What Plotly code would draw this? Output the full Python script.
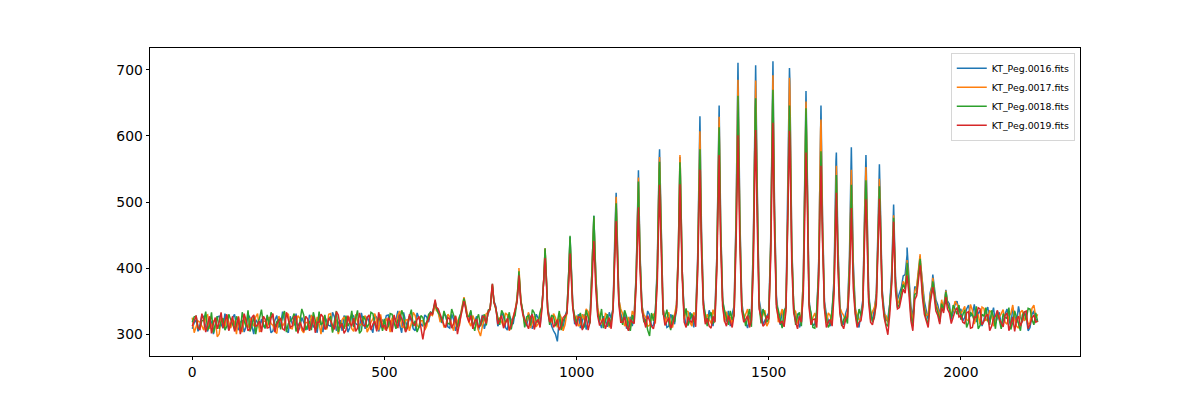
import plotly.graph_objects as go

# ---------------- data ----------------
NAMES = ["KT_Peg.0016.fits", "KT_Peg.0017.fits", "KT_Peg.0018.fits", "KT_Peg.0019.fits"]
COLORS = ["#1f77b4", "#ff7f0e", "#2ca02c", "#d62728"]

# samples every 10 pixels (0 .. 2200) and the in-between samples (5 .. 2195)
GRID_X = list(range(0, 2201, 10))
ODD_X = list(range(5, 2200, 10))

BASE_0016 = [
    308, 322, 315, 326, 304, 318, 312, 327, 309, 320,
    314, 330, 306, 321, 311, 325, 300, 317, 323, 309,
    319, 305, 328, 313, 322, 302, 316, 331, 310, 318,
    307, 324, 315, 329, 303, 320, 312, 326, 317, 305,
    321, 310, 327, 314, 332, 308, 318, 302, 325, 313,
    316, 329, 306, 322, 313, 333, 311, 320, 305, 324,
    312, 326, 334, 342, 336, 317, 328, 309, 322, 314,
    334, 345, 322, 311, 327, 316, 308, 331, 368, 342,
    318, 327, 306, 321, 334, 385, 333, 312, 326, 315,
    324, 344, 400, 326, 305, 289, 318, 327, 398, 348,
    321, 309, 330, 316, 395, 390, 318, 327, 311, 324,
    460, 355, 320, 308, 326, 331, 530, 345, 316, 329,
    314, 405, 470, 327, 312, 322, 342, 550, 331, 317,
    325, 333, 600, 352, 315, 327, 334, 615, 356, 319,
    312, 343, 690, 348, 318, 326, 440, 530, 335, 321,
    332, 680, 358, 314, 327, 515, 440, 322, 310, 385,
    560, 326, 315, 410, 480, 330, 312, 385, 440, 320,
    331, 415, 410, 318, 333, 500, 365, 320, 362, 510,
    338, 324, 395, 385, 362, 388, 420, 342, 372, 392,
    372, 336, 362, 378, 344, 348, 362, 346, 332, 350,
    338, 325, 344, 330, 318, 336, 322, 341, 328, 316,
    333, 320, 338, 312, 329, 342, 318, 326, 310, 335,
    322,
]
ODD_0016 = [
    317, 304, 329, 311, 323, 300, 326, 315, 331, 306,
    325, 312, 318, 303, 330, 314, 322, 309, 312, 327,
    302, 321, 311, 334, 306, 327, 313, 304, 325, 311,
    329, 310, 302, 318, 326, 313, 333, 305, 321, 328,
    303, 330, 316, 305, 320, 327, 310, 329, 304, 322,
    328, 310, 324, 335, 302, 319, 327, 308, 332, 315,
    329, 318, 330, 340, 322, 330, 311, 330, 305, 325,
    346, 328, 333, 318, 306, 329, 320, 338, 350, 312,
    332, 310, 328, 315, 352, 350, 320, 331, 308, 330,
    312, 385, 338, 312, 300, 323, 309, 336, 420, 315,
    330, 320, 307, 328, 470, 334, 309, 322, 333, 340,
    470, 330, 334, 319, 312, 390, 424, 325, 335, 311,
    331, 565, 338, 310, 330, 315, 433, 396, 311, 333,
    310, 414, 460, 325, 336, 312, 419, 468, 328, 335,
    330, 478, 475, 326, 309, 334, 688, 352, 314, 327,
    439, 498, 330, 336, 345, 684, 335, 331, 318, 599,
    352, 313, 330, 630, 350, 322, 336, 562, 345, 314,
    340, 578, 342, 310, 352, 521, 330, 338, 475, 369,
    320, 345, 492, 352, 370, 390, 385, 325, 368, 407,
    350, 322, 374, 352, 330, 340, 350, 322, 345, 333,
    320, 338, 327, 345, 331, 312, 334, 319, 340, 326,
    314, 330, 322, 340, 317, 326, 334, 305, 330, 321,
]

BASE_0017 = [
    325, 311, 318, 306, 329, 314, 322, 300, 317, 328,
    309, 319, 327, 303, 316, 324, 312, 331, 305, 320,
    326, 313, 301, 322, 317, 330, 308, 315, 324, 302,
    318, 329, 310, 316, 325, 307, 331, 313, 300, 322,
    311, 326, 304, 319, 315, 328, 309, 323, 316, 330,
    307, 318, 325, 312, 335, 310, 322, 316, 328, 309,
    320, 312, 330, 340, 333, 324, 313, 326, 305, 319,
    336, 348, 318, 328, 315, 297, 322, 333, 370, 338,
    325, 312, 329, 317, 336, 392, 330, 320, 309, 327,
    316, 340, 405, 322, 331, 310, 325, 314, 395, 345,
    328, 315, 322, 334, 392, 388, 326, 312, 329, 318,
    455, 352, 331, 317, 310, 328, 520, 342, 325, 313,
    330, 398, 462, 318, 333, 310, 345, 552, 322, 334,
    312, 328, 580, 348, 330, 316, 325, 600, 352, 334,
    326, 338, 665, 342, 332, 314, 432, 515, 322, 336,
    318, 660, 352, 330, 316, 505, 432, 334, 324, 380,
    548, 318, 332, 402, 470, 316, 328, 378, 428, 333,
    318, 402, 398, 330, 322, 488, 360, 334, 355, 495,
    330, 318, 385, 378, 352, 380, 405, 335, 365, 395,
    368, 328, 358, 373, 338, 352, 360, 340, 336, 345,
    331, 342, 320, 336, 327, 315, 339, 324, 333, 318,
    326, 337, 315, 331, 322, 309, 336, 328, 317, 344,
    330,
]
ODD_0017 = [
    302, 320, 313, 327, 308, 319, 296, 324, 310, 318,
    321, 300, 314, 328, 309, 318, 326, 304, 319, 311,
    316, 304, 327, 312, 331, 309, 320, 328, 306, 317,
    307, 321, 326, 300, 314, 330, 304, 322, 311, 326,
    320, 308, 330, 313, 324, 303, 318, 331, 306, 314,
    324, 303, 316, 329, 311, 321, 305, 333, 314, 320,
    306, 327, 328, 336, 318, 310, 330, 314, 327, 312,
    349, 330, 312, 320, 305, 312, 331, 337, 348, 320,
    318, 332, 305, 326, 354, 352, 315, 333, 320, 311,
    329, 387, 336, 318, 325, 331, 305, 333, 414, 322,
    312, 330, 338, 318, 468, 340, 320, 331, 310, 338,
    462, 338, 312, 326, 335, 386, 419, 330, 312, 328,
    316, 555, 340, 326, 314, 330, 434, 396, 335, 318,
    333, 407, 450, 318, 322, 337, 414, 460, 318, 320,
    316, 467, 466, 322, 338, 326, 666, 348, 330, 312,
    433, 488, 318, 338, 342, 670, 338, 316, 330, 586,
    348, 326, 318, 610, 346, 332, 315, 543, 340, 328,
    335, 538, 338, 322, 348, 507, 322, 340, 460, 365,
    328, 338, 472, 345, 362, 372, 378, 318, 372, 410,
    342, 330, 372, 346, 325, 338, 348, 330, 350, 338,
    336, 322, 345, 315, 330, 341, 320, 335, 312, 328,
    331, 318, 327, 344, 312, 333, 320, 315, 339, 325,
]

BASE_0018 = [
    318, 327, 310, 321, 306, 333, 315, 308, 324, 312,
    322, 307, 318, 333, 311, 304, 328, 316, 337, 309,
    313, 326, 319, 307, 335, 316, 323, 304, 318, 329,
    312, 306, 321, 334, 317, 309, 327, 320, 303, 315,
    328, 318, 311, 336, 305, 322, 316, 331, 308, 319,
    323, 312, 330, 308, 319, 327, 315, 337, 320, 311,
    325, 318, 333, 344, 332, 318, 327, 315, 329, 310,
    332, 346, 327, 314, 322, 312, 330, 336, 372, 336,
    314, 330, 321, 307, 328, 388, 335, 326, 313, 332,
    318, 342, 404, 314, 327, 318, 306, 325, 400, 342,
    316, 332, 311, 324, 396, 384, 321, 309, 330, 322,
    448, 350, 314, 327, 305, 318, 512, 340, 322, 297,
    320, 392, 455, 326, 318, 329, 340, 540, 327, 313,
    331, 322, 560, 345, 312, 333, 320, 590, 350, 326,
    335, 328, 640, 337, 312, 338, 425, 505, 316, 330,
    324, 645, 345, 321, 336, 490, 420, 314, 333, 372,
    540, 333, 309, 390, 450, 325, 316, 372, 420, 312,
    327, 395, 388, 315, 328, 475, 355, 318, 352, 488,
    332, 312, 380, 372, 345, 375, 400, 328, 360, 388,
    362, 322, 352, 368, 333, 346, 358, 338, 344, 330,
    322, 337, 318, 329, 342, 313, 327, 320, 336, 308,
    319, 331, 324, 307, 335, 316, 329, 321, 338, 314,
    318,
]
ODD_0018 = [
    326, 309, 320, 334, 313, 302, 327, 319, 306, 330,
    314, 327, 305, 320, 336, 312, 300, 324, 315, 329,
    333, 310, 322, 328, 303, 320, 331, 312, 338, 306,
    320, 333, 308, 314, 329, 322, 302, 335, 317, 308,
    312, 335, 322, 301, 327, 310, 333, 315, 326, 305,
    307, 331, 318, 322, 336, 304, 325, 312, 303, 328,
    313, 330, 331, 339, 328, 335, 316, 338, 318, 326,
    348, 327, 336, 305, 330, 322, 313, 338, 349, 325,
    336, 318, 333, 323, 351, 350, 310, 328, 337, 320,
    333, 386, 336, 328, 312, 335, 320, 334, 417, 328,
    325, 308, 336, 316, 470, 332, 338, 320, 312, 337,
    454, 325, 336, 310, 329, 384, 416, 318, 306, 332,
    336, 548, 330, 337, 306, 318, 429, 393, 339, 322,
    318, 399, 438, 330, 327, 316, 409, 453, 336, 314,
    322, 458, 456, 330, 325, 311, 640, 345, 338, 318,
    426, 478, 336, 309, 340, 630, 345, 328, 312, 578,
    345, 310, 338, 564, 340, 310, 337, 528, 336, 322,
    316, 520, 334, 338, 345, 490, 336, 325, 453, 362,
    315, 342, 470, 340, 365, 368, 372, 312, 362, 404,
    338, 316, 366, 342, 318, 336, 346, 325, 338, 344,
    329, 310, 333, 321, 308, 330, 340, 314, 326, 335,
    308, 325, 340, 318, 327, 305, 333, 339, 322, 332,
]

BASE_0019 = [
    312, 328, 306, 320, 315, 301, 325, 318, 309, 330,
    317, 304, 326, 312, 321, 308, 329, 314, 303, 322,
    310, 331, 315, 324, 306, 319, 312, 327, 318, 304,
    323, 313, 302, 318, 326, 311, 320, 307, 329, 316,
    306, 317, 324, 309, 320, 312, 329, 315, 304, 321,
    314, 325, 303, 318, 330, 316, 309, 323, 313, 327,
    292, 318, 332, 346, 338, 320, 310, 323, 316, 300,
    330, 343, 318, 308, 322, 314, 326, 334, 372, 340,
    321, 309, 324, 313, 335, 380, 330, 316, 325, 307,
    322, 338, 395, 318, 310, 322, 313, 328, 380, 340,
    312, 325, 318, 306, 372, 368, 313, 324, 316, 308,
    425, 345, 318, 312, 322, 316, 475, 336, 310, 320,
    308, 375, 430, 313, 325, 316, 335, 505, 318, 326,
    318, 311, 530, 340, 324, 309, 318, 550, 342, 312,
    320, 330, 585, 335, 322, 310, 400, 470, 326, 315,
    322, 590, 340, 316, 311, 470, 405, 318, 327, 360,
    510, 314, 323, 380, 440, 310, 322, 360, 400, 315,
    322, 375, 370, 310, 320, 455, 348, 314, 345, 470,
    326, 299, 375, 365, 340, 368, 385, 320, 352, 380,
    355, 318, 345, 360, 328, 340, 350, 332, 325, 340,
    328, 316, 334, 310, 325, 338, 319, 330, 312, 327,
    323, 311, 332, 318, 304, 327, 320, 335, 315, 329,
    320,
]
ODD_0019 = [
    322, 310, 331, 303, 327, 316, 308, 333, 320, 305,
    327, 313, 300, 331, 305, 325, 311, 320, 327, 309,
    324, 303, 320, 308, 333, 310, 326, 301, 312, 327,
    305, 327, 318, 330, 307, 324, 313, 334, 310, 301,
    328, 312, 304, 332, 313, 325, 306, 320, 333, 310,
    305, 320, 329, 309, 322, 303, 330, 316, 322, 306,
    310, 322, 330, 341, 330, 314, 325, 309, 328, 318,
    344, 326, 328, 320, 310, 327, 316, 338, 348, 315,
    328, 318, 306, 325, 348, 347, 322, 308, 330, 318,
    310, 378, 334, 325, 315, 306, 325, 331, 398, 320,
    326, 306, 328, 318, 435, 327, 319, 308, 325, 336,
    434, 318, 326, 305, 318, 372, 398, 322, 328, 312,
    322, 516, 334, 320, 309, 326, 414, 384, 310, 320,
    328, 390, 424, 315, 312, 327, 396, 434, 320, 328,
    310, 434, 432, 318, 328, 321, 595, 338, 312, 328,
    411, 456, 325, 320, 335, 594, 332, 308, 318, 524,
    340, 322, 310, 543, 338, 318, 312, 504, 332, 308,
    326, 486, 330, 318, 340, 468, 318, 328, 440, 358,
    312, 330, 462, 338, 355, 362, 360, 305, 358, 398,
    330, 310, 360, 335, 315, 332, 338, 316, 335, 326,
    318, 332, 309, 326, 340, 314, 327, 305, 323, 336,
    316, 328, 305, 326, 322, 312, 333, 308, 324, 318,
]

# narrow emission peaks: position and apex value for each file
PEAK_X = [632, 707, 781, 850, 918, 983, 1045, 1103, 1161, 1216, 1269, 1321, 1371, 1420,
          1466, 1511, 1554, 1597, 1636, 1676, 1715, 1753, 1788, 1825, 1860, 1894, 1927, 1961]
PEAK_0016 = [348, 352, 372, 392, 428, 447, 479, 514, 548, 580, 568, 630, 646, 711,
             707, 713, 703, 668, 646, 575, 583, 571, 557, 496, 431, 418, 390, 367]
PEAK_0017 = [346, 356, 374, 400, 430, 444, 476, 508, 537, 568, 571, 607, 629, 685,
             684, 692, 688, 652, 625, 555, 549, 553, 535, 480, 412, 421, 385, 366]
PEAK_0018 = [350, 354, 376, 395, 430, 449, 479, 498, 531, 561, 560, 580, 613, 661,
             657, 670, 646, 642, 577, 541, 526, 533, 524, 476, 408, 414, 380, 364]
PEAK_0019 = [352, 350, 376, 389, 415, 422, 441, 471, 492, 526, 527, 549, 571, 601,
             609, 620, 608, 575, 555, 514, 491, 504, 505, 470, 389, 404, 371, 356]

BASES = [BASE_0016, BASE_0017, BASE_0018, BASE_0019]
ODDS = [ODD_0016, ODD_0017, ODD_0018, ODD_0019]
PEAKS = [PEAK_0016, PEAK_0017, PEAK_0018, PEAK_0019]

X_TICKS = [0, 500, 1000, 1500, 2000]
Y_TICKS = [300, 400, 500, 600, 700]

# ---------------- figure ----------------
fig = go.Figure()
for name, color, base, odd, peak in zip(NAMES, COLORS, BASES, ODDS, PEAKS):
    pts = sorted(list(zip(GRID_X, base)) + list(zip(ODD_X, odd)) + list(zip(PEAK_X, peak)),
                 key=lambda p: p[0])
    fig.add_trace(go.Scatter(
        x=[p[0] for p in pts], y=[p[1] for p in pts],
        mode="lines", name=name,
        line=dict(color=color, width=1.5),
    ))

axis_common = dict(
    showgrid=False, zeroline=False,
    ticks="outside", ticklen=3.5, tickwidth=0.8, tickcolor="black",
    showline=True, linecolor="black", linewidth=0.8, mirror=True,
    tickfont=dict(family="DejaVu Sans", size=13.9, color="black"),
)

# the page body adds an 8px margin, so the figure is 8px smaller on each side
fig.update_layout(
    width=1192, height=392,
    margin=dict(l=142, r=120, t=40, b=44),
    paper_bgcolor="white", plot_bgcolor="white",
    font=dict(family="DejaVu Sans", color="black"),
    xaxis=dict(range=[-110, 2310], tickvals=X_TICKS, **axis_common),
    yaxis=dict(range=[266.8, 733.2], tickvals=Y_TICKS, **axis_common),
    legend=dict(
        x=0.9946, y=0.984, xanchor="right", yanchor="top",
        bgcolor="rgba(255,255,255,0.8)", bordercolor="#cccccc", borderwidth=0.8,
        font=dict(family="DejaVu Sans", size=9.4, color="black"),
        tracegroupgap=0, itemwidth=30,
    ),
    showlegend=True,
)

fig.write_html("out.html")
